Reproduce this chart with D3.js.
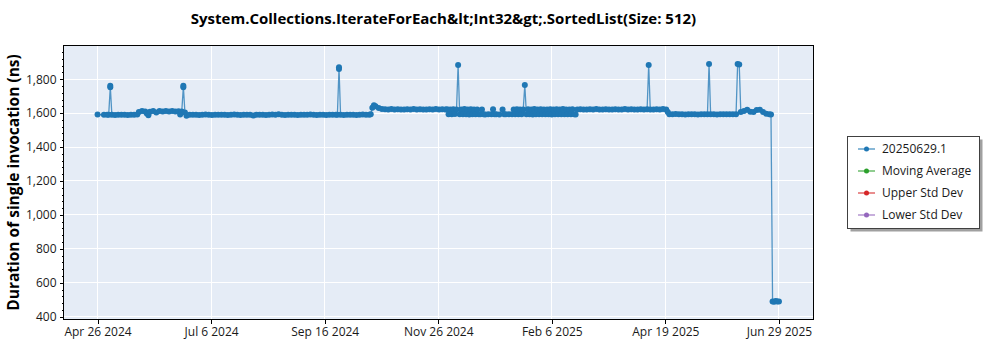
<!DOCTYPE html>
<html><head><meta charset="utf-8">
<script src="https://cdn.jsdelivr.net/npm/d3@7"></script>
<style>
body{margin:0;background:#fff}
svg{display:block}
text{font-family:"Open Sans","Noto Sans",sans-serif}
</style>
</head><body>
<svg id="chart" width="1000" height="350"></svg>
<script>
const chartTitle = "System.Collections.IterateForEach&lt;Int32&gt;.SortedList(Size: 512)";
const yAxisTitle = "Duration of single invocation (ns)";
const seriesNames = ["20250629.1", "Moving Average", "Upper Std Dev", "Lower Std Dev"];
const seriesColors = ["#1f77b4", "#2ca02c", "#d62728", "#9467bd"];
const xTickLabels = ["Apr 26 2024", "Jul 6 2024", "Sep 16 2024", "Nov 26 2024", "Feb 6 2025", "Apr 19 2025", "Jun 29 2025"];
const yMajorTicks = [400, 600, 800, 1000, 1200, 1400, 1600, 1800];
const yMinorTicks = [440,480,520,560,640,680,720,760,840,880,920,960,1040,1080,1120,1160,1240,1280,1320,1360,1440,1480,1520,1560,1640,1680,1720,1760,1840,1880,1920,1960];
const yDomain = [383.5, 1995.7];

const runDates = [
"2024-04-26","2024-04-30","2024-05-02","2024-05-03","2024-05-04","2024-05-04","2024-05-05","2024-05-07","2024-05-09","2024-05-11",
"2024-05-13","2024-05-15","2024-05-17","2024-05-19","2024-05-21","2024-05-22","2024-05-24","2024-05-26","2024-05-27","2024-05-28",
"2024-05-29","2024-05-31","2024-06-02","2024-06-04","2024-06-06","2024-06-08","2024-06-10","2024-06-12","2024-06-14","2024-06-16",
"2024-06-17","2024-06-18","2024-06-19","2024-06-19","2024-06-20","2024-06-21","2024-06-23",
"2024-06-25","2024-06-27","2024-06-29","2024-07-01","2024-07-03","2024-07-05","2024-07-07","2024-07-09","2024-07-11","2024-07-13",
"2024-07-15","2024-07-17","2024-07-19","2024-07-21","2024-07-23","2024-07-25","2024-07-27","2024-07-29","2024-07-31","2024-08-02",
"2024-08-04","2024-08-06","2024-08-08","2024-08-10","2024-08-12","2024-08-14","2024-08-16","2024-08-18","2024-08-20","2024-08-22",
"2024-08-24","2024-08-26","2024-08-28","2024-08-30","2024-09-01","2024-09-03","2024-09-05","2024-09-07","2024-09-09","2024-09-11",
"2024-09-13","2024-09-15","2024-09-17","2024-09-19","2024-09-21","2024-09-23","2024-09-24","2024-09-25","2024-09-25","2024-09-26",
"2024-09-28","2024-09-30","2024-10-02","2024-10-04","2024-10-06","2024-10-08","2024-10-10","2024-10-12","2024-10-14","2024-10-15",
"2024-10-16","2024-10-17","2024-10-18","2024-10-20","2024-10-22","2024-10-24","2024-10-26","2024-10-28","2024-10-30","2024-11-01",
"2024-11-03","2024-11-05","2024-11-07","2024-11-09","2024-11-11","2024-11-13","2024-11-15","2024-11-17","2024-11-19","2024-11-21",
"2024-11-23","2024-11-25","2024-11-27","2024-11-29",
"2024-12-01","2024-12-02","2024-12-03","2024-12-04","2024-12-05","2024-12-06","2024-12-07","2024-12-08","2024-12-09","2024-12-10",
"2024-12-11","2024-12-12","2024-12-13","2024-12-14","2024-12-15","2024-12-16","2024-12-17","2024-12-18","2024-12-19","2024-12-20",
"2024-12-21","2024-12-22","2024-12-23","2024-12-24","2024-12-25","2024-12-26","2024-12-28","2024-12-30","2024-12-31","2025-01-01",
"2025-01-02","2025-01-04","2025-01-06","2025-01-07","2025-01-08","2025-01-10","2025-01-12","2025-01-13","2025-01-14","2025-01-15",
"2025-01-16","2025-01-17","2025-01-18","2025-01-19","2025-01-20","2025-01-21","2025-01-22","2025-01-23","2025-01-24","2025-01-25",
"2025-01-26","2025-01-27","2025-01-28","2025-01-29","2025-01-30","2025-01-31","2025-02-01","2025-02-02","2025-02-03","2025-02-04",
"2025-02-05","2025-02-06","2025-02-07","2025-02-08","2025-02-09","2025-02-10","2025-02-11","2025-02-12","2025-02-13","2025-02-14",
"2025-02-15","2025-02-16","2025-02-17","2025-02-18","2025-02-19","2025-02-20","2025-02-21","2025-02-22",
"2025-02-24","2025-02-26","2025-02-28","2025-03-02","2025-03-04","2025-03-06","2025-03-08","2025-03-10","2025-03-12","2025-03-14",
"2025-03-16","2025-03-18","2025-03-20","2025-03-22","2025-03-24","2025-03-26","2025-03-28","2025-03-30","2025-04-01","2025-04-03",
"2025-04-05","2025-04-07","2025-04-08","2025-04-09","2025-04-11","2025-04-13","2025-04-15","2025-04-17","2025-04-19","2025-04-20",
"2025-04-21","2025-04-23","2025-04-25","2025-04-27","2025-04-29","2025-05-01","2025-05-03","2025-05-05","2025-05-07","2025-05-09",
"2025-05-11","2025-05-13","2025-05-15","2025-05-16","2025-05-17","2025-05-19","2025-05-21","2025-05-23","2025-05-25","2025-05-27",
"2025-05-29","2025-05-31","2025-06-02","2025-06-03","2025-06-04","2025-06-05","2025-06-07","2025-06-09","2025-06-11","2025-06-13",
"2025-06-15","2025-06-17","2025-06-19","2025-06-21","2025-06-23","2025-06-24","2025-06-25","2025-06-26","2025-06-27","2025-06-28",
"2025-06-29"
];
const durations = [
1592,1590,1591,1590,1752,1761,1590,1589,1591,1590,
1590,1589,1591,1590,1592,1606,1612,1610,1598,1588,
1608,1612,1604,1612,1610,1613,1609,1612,1610,1611,
1592,1610,1752,1761,1604,1584,1590,
1590,1591,1589,1590,1592,1590,1589,1591,1590,1590,
1591,1589,1590,1592,1590,1589,1591,1590,1590,1586,
1590,1591,1590,1589,1590,1592,1591,1594,1590,1589,
1590,1591,1590,1589,1591,1590,1590,1592,1590,1589,
1591,1590,1589,1590,1591,1590,1591,1860,1870,1590,
1589,1590,1591,1590,1589,1590,1592,1590,1591,1594,
1632,1646,1640,1630,1625,1623,1622,1624,1622,1623,
1622,1621,1623,1622,1624,1622,1623,1621,1622,1623,
1622,1624,1622,1623,
1622,1623,1594,1622,1593,1623,1595,1622,1884,1594,
1621,1593,1624,1594,1622,1592,1623,1594,1622,1593,
1621,1594,1593,1622,1594,1592,1593,1594,1623,1593,
1594,1592,1622,1594,1593,1594,1593,1622,1594,1623,
1593,1622,1594,1621,1766,1593,1623,1594,1622,1592,
1624,1594,1622,1593,1623,1594,1622,1593,1621,1594,
1623,1592,1622,1594,1623,1593,1622,1594,1624,1593,
1622,1594,1621,1593,1623,1594,1592,1622,
1623,1622,1621,1623,1622,1624,1622,1621,1623,1622,
1622,1623,1621,1622,1624,1622,1623,1622,1621,1623,
1622,1623,1884,1622,1621,1623,1622,1624,1622,1606,
1594,1593,1595,1593,1594,1592,1593,1594,1593,1592,
1594,1593,1594,1890,1593,1594,1592,1593,1594,1593,
1594,1593,1594,1890,1887,1606,1612,1620,1608,1607,
1618,1620,1606,1596,1593,1592,490,488,492,489,
490
];

const parse = d3.utcParse("%Y-%m-%d");
const points = runDates.map((d, i) => ({ date: parse(d), value: durations[i] }));

const plot = { left: 63.5, right: 813.5, top: 45.5, bottom: 319.5 };
const svg = d3.select("#chart");

const [tMin, tMax] = d3.extent(points, p => p.date);
const span = tMax - tMin;
const x = d3.scaleUtc()
  .domain([new Date(+tMin - 0.05 * span), new Date(+tMax + 0.05 * span)])
  .range([plot.left, plot.right - 0.5]);
const xTicks = xTickLabels.map((_, i) => new Date(+tMin + i * span / (xTickLabels.length - 1)));

const y = d3.scaleLinear().domain(yDomain).range([plot.bottom, plot.top + 0.5]);

// background
svg.append("rect")
  .attr("x", plot.left).attr("y", plot.top)
  .attr("width", plot.right - plot.left).attr("height", plot.bottom - plot.top)
  .attr("fill", "#e5ecf6");

// grid
const grid = svg.append("g").attr("stroke", "#ffffff").attr("stroke-width", 1).attr("shape-rendering", "crispEdges");
grid.selectAll("line.gx").data(xTicks).join("line")
  .attr("x1", d => x(d)).attr("x2", d => x(d))
  .attr("y1", plot.top).attr("y2", plot.bottom);
grid.selectAll("line.gy").data(yMajorTicks).join("line")
  .attr("x1", plot.left).attr("x2", plot.right)
  .attr("y1", d => y(d)).attr("y2", d => y(d));

// clip
svg.append("clipPath").attr("id", "clip").append("rect")
  .attr("x", plot.left).attr("y", plot.top)
  .attr("width", plot.right - plot.left).attr("height", plot.bottom - plot.top);

const color = seriesColors[0];
const line = d3.line().x(p => x(p.date)).y(p => y(p.value));
const dataG = svg.append("g").attr("clip-path", "url(#clip)");
dataG.append("path").datum(points)
  .attr("d", line)
  .attr("fill", "none")
  .attr("stroke", color)
  .attr("stroke-opacity", 0.75)
  .attr("stroke-width", 1.3)
  .attr("stroke-linejoin", "round");
dataG.selectAll("circle").data(points).join("circle")
  .attr("cx", p => x(p.date)).attr("cy", p => y(p.value))
  .attr("r", 3)
  .attr("fill", color);

// frame
svg.append("rect")
  .attr("x", plot.left).attr("y", plot.top)
  .attr("width", plot.right - plot.left).attr("height", plot.bottom - plot.top)
  .attr("fill", "none").attr("stroke", "#000").attr("stroke-width", 1)
  .attr("shape-rendering", "crispEdges");

// axes
const axisFont = 12;
const yAxis = svg.append("g").attr("transform", `translate(${plot.left},0)`)
  .call(d3.axisLeft(y).tickValues(yMajorTicks).tickSize(4).tickPadding(3).tickFormat(d3.format(",")));
const yMinor = svg.append("g").attr("transform", `translate(${plot.left},0)`)
  .call(d3.axisLeft(y).tickValues(yMinorTicks).tickSize(2).tickFormat(""));
const xAxis = svg.append("g").attr("transform", `translate(0,${plot.bottom})`)
  .call(d3.axisBottom(x).tickValues(xTicks).tickSize(4).tickPadding(4).tickFormat((d, i) => xTickLabels[i]));
[yAxis, yMinor, xAxis].forEach(g => {
  g.select(".domain").remove();
  g.selectAll(".tick line").attr("stroke", "#000").attr("shape-rendering", "crispEdges");
  g.selectAll("text").attr("font-family", '"Open Sans","Noto Sans",sans-serif').attr("font-size", axisFont).attr("fill", "#1a1a1a");
});

// titles
svg.append("text")
  .attr("x", (plot.left + plot.right) / 2 + 5).attr("y", 24)
  .attr("text-anchor", "middle")
  .attr("font-weight", "bold").attr("font-size", 15).attr("fill", "#000")
  .text(chartTitle);
svg.append("text")
  .attr("transform", `translate(19,${(plot.top + plot.bottom) / 2}) rotate(-90)`)
  .attr("text-anchor", "middle")
  .attr("font-weight", "bold").attr("font-size", 15.5).attr("fill", "#000")
  .text(yAxisTitle);

// legend
const legend = svg.append("g");
const lx = 847.5, ly = 136.5, lw = 132, lh = 92;
legend.append("rect").attr("x", lx + 3).attr("y", ly + 3).attr("width", lw).attr("height", lh).attr("fill", "#a0a0a0");
legend.append("rect").attr("x", lx).attr("y", ly).attr("width", lw).attr("height", lh)
  .attr("fill", "#fff").attr("stroke", "#404040").attr("stroke-width", 1).attr("shape-rendering", "crispEdges");
const items = legend.selectAll("g.item").data(seriesNames).join("g")
  .attr("transform", (d, i) => `translate(0,${149 + i * 22})`);
items.append("line").attr("x1", 858).attr("x2", 875).attr("y1", 0).attr("y2", 0)
  .attr("stroke", (d, i) => seriesColors[i]).attr("stroke-opacity", 0.7).attr("stroke-width", 1.5);
items.append("circle").attr("cx", 866.5).attr("cy", 0).attr("r", 2.5).attr("fill", (d, i) => seriesColors[i]);
items.append("text").attr("x", 882).attr("y", 0).attr("dy", "0.35em")
  .attr("font-size", 12).attr("fill", "#1a1a1a").text(d => d);
</script>
</body></html>
